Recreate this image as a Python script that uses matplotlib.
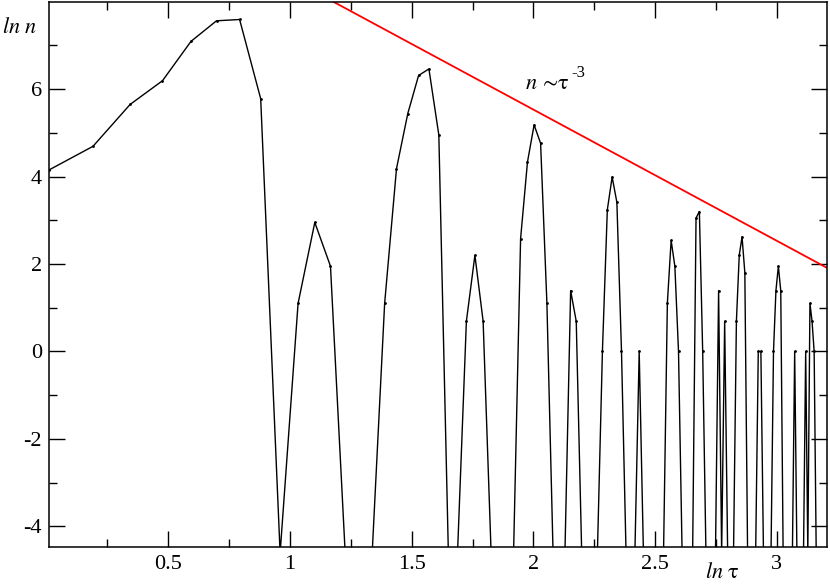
import numpy as np
import matplotlib
matplotlib.use('Agg')
import matplotlib.pyplot as plt
from matplotlib.ticker import MultipleLocator, FormatStrFormatter

plt.rcParams['font.family'] = 'serif'
plt.rcParams['font.serif'] = ['Liberation Serif', 'DejaVu Serif']
plt.rcParams['mathtext.fontset'] = 'stix'
plt.rcParams['axes.unicode_minus'] = False

# ln(tau) of each bin
ln_tau = [0.0100, 0.1906, 0.3436, 0.4762, 0.5933, 0.6981, 0.7930, 0.8796, 0.9594, 1.0332,
          1.1019, 1.1663, 1.2267, 1.2837, 1.3376, 1.3888, 1.4375, 1.4839, 1.5282, 1.5707,
          1.6114, 1.6506, 1.6882, 1.7246, 1.7596, 1.7934, 1.8262, 1.8579, 1.8886, 1.9184,
          1.9473, 1.9755, 2.0028, 2.0295, 2.0554, 2.0807, 2.1054, 2.1294, 2.1529, 2.1759,
          2.1983, 2.2203, 2.2418, 2.2628, 2.2834, 2.3036, 2.3234, 2.3428, 2.3618, 2.3805,
          2.3988, 2.4168, 2.4345, 2.4519, 2.4689, 2.4857, 2.5023, 2.5185, 2.5345, 2.5502,
          2.5657, 2.5810, 2.5960, 2.6108, 2.6254, 2.6398, 2.6540, 2.6680, 2.6817, 2.6953,
          2.7087, 2.7220, 2.7350, 2.7479, 2.7607, 2.7732, 2.7856, 2.7979, 2.8100, 2.8220,
          2.8338, 2.8455, 2.8570, 2.8685, 2.8798, 2.8909, 2.9020, 2.9129, 2.9237, 2.9344,
          2.9450, 2.9554, 2.9658, 2.9760, 2.9862, 2.9962, 3.0062, 3.0160, 3.0258, 3.0354,
          3.0450, 3.0545, 3.0639, 3.0732, 3.0824, 3.0915, 3.1005, 3.1095, 3.1184, 3.1272,
          3.1359, 3.1446, 3.1532, 3.1617, 3.1701, 3.1785, 3.1868, 3.1950, 3.2031, 3.2112]

# ln(n); empty bins sit at -4.61 (below the axis)
ln_n = [4.15, 4.69, 5.65, 6.19, 7.09, 7.56, 7.59, 5.78, -4.61, 1.10,
        2.95, 1.95, -4.61, -4.61, -4.61, 1.10, 4.18, 5.44, 6.31, 6.46,
        4.95, -4.61, -4.61, 0.69, 2.20, 0.69, -4.61, -4.61, -4.61, -4.61,
        2.58, 4.33, 5.18, 4.76, 1.10, -4.61, -4.61, -4.61, 1.39, 0.69,
        -4.61, -4.61, -4.61, -4.61, 0.00, 3.24, 3.99, 3.41, 0.00, -4.61,
        -4.61, -4.61, 0.00, -4.61, -4.61, -4.61, -4.61, -4.61, -4.61, 1.10,
        2.54, 1.95, 0.00, -4.61, -4.61, -4.61, -4.61, 3.05, 3.20, 0.00,
        -4.61, -4.61, -4.61, -4.61, 1.39, -4.61, 0.69, -4.61, -4.61, -4.61,
        0.69, 2.20, 2.62, 1.80, -4.61, -4.61, -4.61, -4.61, 0.00, 0.00,
        -4.61, -4.61, -4.61, -4.61, 0.00, 1.39, 1.95, 1.39, -4.61, -4.61,
        -4.61, -4.61, -4.61, 0.00, -4.61, -4.61, -4.61, -4.61, 0.00, -4.61,
        1.10, 0.69, 0.00, -4.61, -4.61, -4.61, -4.61, -4.61, -4.61, -4.61]

# power law guide n ~ tau^-3
fit_intercept = 11.53
fit_slope = -3

fig = plt.figure(figsize=(8.3, 5.84), dpi=100)
ax = fig.add_axes([49/830, 1-547/584, (827-49)/830, (547-2)/584])

ax.plot(ln_tau, ln_n, color='black', lw=1.0, marker='o', ms=1.0)
ax.axline((0, fit_intercept), slope=fit_slope, color='#ff0000', lw=1.3)

ax.set_xlim(0.01, 3.206)
ax.set_ylim(-4.47, 7.99)
ax.xaxis.set_major_locator(MultipleLocator(0.5))
ax.xaxis.set_minor_locator(MultipleLocator(0.25))
ax.xaxis.set_major_formatter(FormatStrFormatter('%g'))
ax.set_yticks([-4, -2, 0, 2, 4, 6])
ax.yaxis.set_minor_locator(MultipleLocator(1))
ax.tick_params(which='both', direction='in', top=True, right=True, labelsize=16, width=1.0)
ax.tick_params(which='major', length=11.5)
ax.tick_params(which='minor', length=5.8)
ax.tick_params(axis='y', pad=5)
ax.tick_params(axis='x', pad=6)
for s in ax.spines.values():
    s.set_linewidth(1.1)

fig.text(2/830, 1-28/584, r'$ln\ n$', fontsize=16, va='center', ha='left')
fig.text(705/830, 1/584, r'$ln\ \mathrm{\tau}$', fontsize=16, va='bottom', ha='left')
# annotation: main part and the exponent as separate pieces
fig.text(525/830, 1-89/584, r'$n\ \!{\sim}\!\mathrm{\tau}$', fontsize=16, va='baseline', ha='left')
fig.text(571/830, 1-77/584, '-3', fontsize=12, va='baseline', ha='left')

fig.savefig('out.png', dpi=100)
